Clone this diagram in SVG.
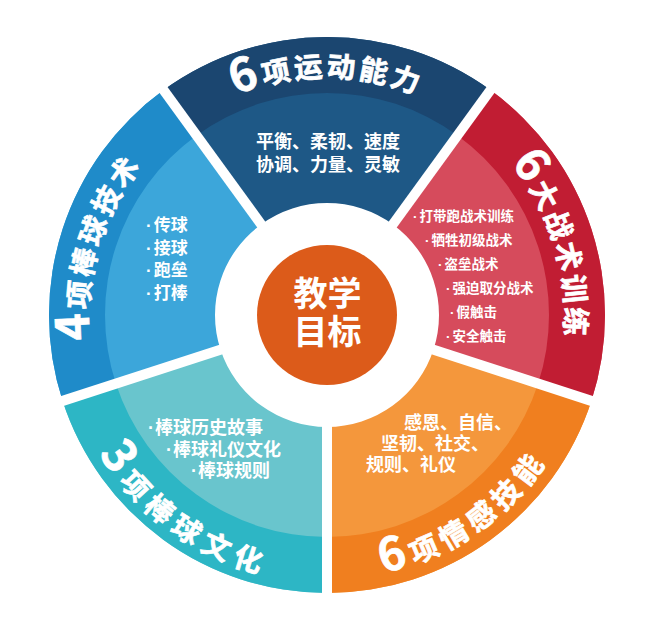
<svg xmlns="http://www.w3.org/2000/svg" xmlns:xlink="http://www.w3.org/1999/xlink" width="664" height="622" viewBox="0 0 664 622">
<style>
text{font-family:"Noto Sans CJK SC","Noto Sans",sans-serif;fill:#fff;font-weight:700}
.title{font-size:28.5px;stroke:#fff;stroke-width:0.7}
.digit{font-size:46px}
.body{font-size:18px}
.small{font-size:13.5px}
.center{font-size:34px}
.dot{font-family:"Liberation Sans",sans-serif}
.div{stroke:#fff;stroke-width:10;stroke-linecap:butt}
</style>
<defs>
<path id="tpNavy" d="M120.89 196 A238 238 0 0 1 533.11 196"/>
<path id="tpRed" d="M376.48 82.20 A238 238 0 0 1 503.87 474.25"/>
<path id="tpBlue" d="M150.13 474.25 A238 238 0 0 1 277.52 82.20"/>
<path id="tpTeal" d="M61.46 287.09 A267 267 0 0 0 435.60 558.92"/>
<path id="tpOrange" d="M219.62 556.18 A264 264 0 0 0 589.55 287.40"/>
</defs>
<rect width="664" height="622" fill="#fff"/>

<g id="sector-navy">
<path d="M163.60 90.09 A278 278 0 0 1 490.40 90.09 L392.83 224.39 A112 112 0 0 0 261.17 224.39 Z" fill="#1e5886"/>
<path d="M163.60 90.09 A278 278 0 0 1 490.40 90.09 L457.49 135.40 A222 222 0 0 0 196.51 135.40 Z" fill="#1b4670"/>
<text class="title" letter-spacing="3"><textPath xlink:href="#tpNavy" href="#tpNavy" startOffset="50%" text-anchor="middle"><tspan class="digit">6</tspan>项运动能力</textPath></text>
<text class="body" x="328" y="148" text-anchor="middle">平衡、柔韧、速度</text>
<text class="body" x="328" y="171" text-anchor="middle">协调、力量、灵敏</text>
</g>

<g id="sector-red">
<path d="M490.40 90.09 A278 278 0 0 1 591.39 400.91 L433.52 349.61 A112 112 0 0 0 392.83 224.39 Z" fill="#d64b5c"/>
<path d="M490.40 90.09 A278 278 0 0 1 591.39 400.91 L538.14 383.60 A222 222 0 0 0 457.49 135.40 Z" fill="#c11d33"/>
<text class="title" letter-spacing="3"><textPath xlink:href="#tpRed" href="#tpRed" startOffset="253.4" text-anchor="middle"><tspan class="digit">6</tspan>大战术训练</textPath></text>
<text class="small" x="413" y="221"><tspan class="dot">·</tspan><tspan dx="2">打带跑战术训练</tspan></text>
<text class="small" x="425" y="245"><tspan class="dot">·</tspan><tspan dx="2">牺牲初级战术</tspan></text>
<text class="small" x="438" y="269"><tspan class="dot">·</tspan><tspan dx="2">盗垒战术</tspan></text>
<text class="small" x="446" y="293"><tspan class="dot">·</tspan><tspan dx="2">强迫取分战术</tspan></text>
<text class="small" x="450" y="317"><tspan class="dot">·</tspan><tspan dx="2">假触击</tspan></text>
<text class="small" x="446" y="341"><tspan class="dot">·</tspan><tspan dx="2">安全触击</tspan></text>
</g>

<g id="sector-orange">
<path d="M591.39 400.91 A278 278 0 0 1 327 593 L327 427 A112 112 0 0 0 433.52 349.61 Z" fill="#f4973c"/>
<path d="M591.39 400.91 A278 278 0 0 1 327 593 L327 537 A222 222 0 0 0 538.14 383.60 Z" fill="#f07f1f"/>
<text class="title" letter-spacing="6"><textPath xlink:href="#tpOrange" href="#tpOrange" startOffset="269.6" text-anchor="middle"><tspan class="digit">6</tspan>项情感技能</textPath></text>
<text class="body" x="404" y="429">感恩、自信、</text>
<text class="body" x="381" y="450">坚韧、社交、</text>
<text class="body" x="366" y="471">规则、礼仪</text>
</g>

<g id="sector-teal">
<path d="M327 593 A278 278 0 0 1 62.61 400.91 L220.48 349.61 A112 112 0 0 0 327 427 Z" fill="#69c5cd"/>
<path d="M327 593 A278 278 0 0 1 62.61 400.91 L115.86 383.60 A222 222 0 0 0 327 537 Z" fill="#2db6c5"/>
<text class="title" letter-spacing="7"><textPath xlink:href="#tpTeal" href="#tpTeal" startOffset="50%" text-anchor="middle"><tspan class="digit">3</tspan>项棒球文化</textPath></text>
<text class="body" x="148" y="434"><tspan class="dot">·</tspan><tspan dx="1">棒球历史故事</tspan></text>
<text class="body" x="166" y="456"><tspan class="dot">·</tspan><tspan dx="1">棒球礼仪文化</tspan></text>
<text class="body" x="191" y="477"><tspan class="dot">·</tspan><tspan dx="1">棒球规则</tspan></text>
</g>

<g id="sector-blue">
<path d="M62.61 400.91 A278 278 0 0 1 163.60 90.09 L261.17 224.39 A112 112 0 0 0 220.48 349.61 Z" fill="#3ca6da"/>
<path d="M62.61 400.91 A278 278 0 0 1 163.60 90.09 L196.51 135.40 A222 222 0 0 0 115.86 383.60 Z" fill="#1f8bc9"/>
<text class="title" letter-spacing="3"><textPath xlink:href="#tpBlue" href="#tpBlue" startOffset="243.4" text-anchor="middle"><tspan class="digit">4</tspan>项棒球技术</textPath></text>
<text class="body" x="146" y="231" style="font-size:17px"><tspan class="dot">·</tspan><tspan dx="2">传球</tspan></text>
<text class="body" x="146" y="253.5" style="font-size:17px"><tspan class="dot">·</tspan><tspan dx="2">接球</tspan></text>
<text class="body" x="146" y="276" style="font-size:17px"><tspan class="dot">·</tspan><tspan dx="2">跑垒</tspan></text>
<text class="body" x="146" y="298.5" style="font-size:17px"><tspan class="dot">·</tspan><tspan dx="2">打棒</tspan></text>
</g>

<g id="dividers">
<line class="div" x1="422.11" y1="345.90" x2="602.81" y2="404.62"/>
<line class="div" x1="327" y1="415" x2="327" y2="605"/>
<line class="div" x1="231.89" y1="345.90" x2="51.19" y2="404.62"/>
<line class="div" x1="268.22" y1="234.10" x2="156.54" y2="80.39"/>
<line class="div" x1="385.78" y1="234.10" x2="497.46" y2="80.39"/>
</g>

<g id="center">
<circle cx="327" cy="315" r="70" fill="#dc5b1a"/>
<text class="center" x="327.5" y="306" text-anchor="middle">教学</text>
<text class="center" x="327.5" y="344" text-anchor="middle">目标</text>
</g>
</svg>
